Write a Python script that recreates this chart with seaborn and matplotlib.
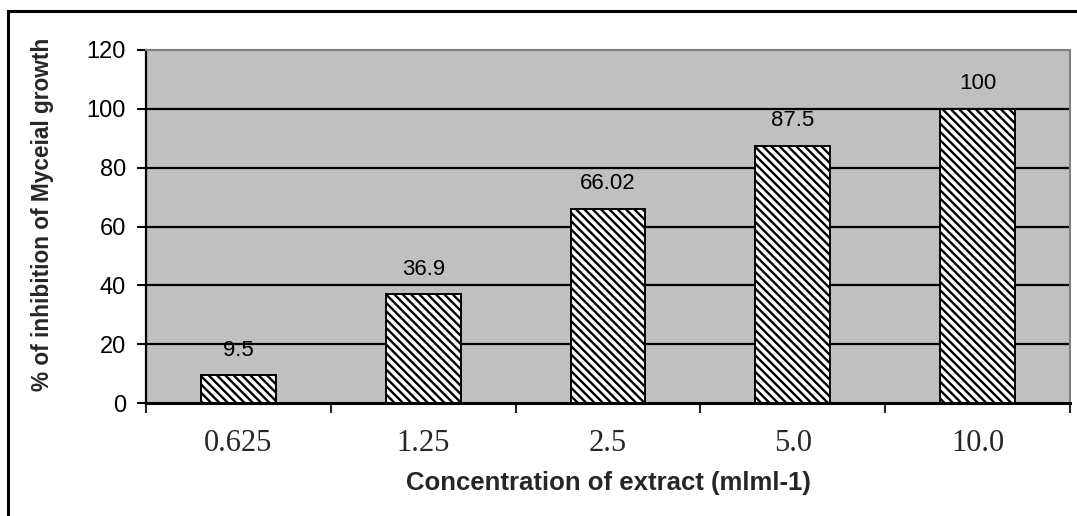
import matplotlib
matplotlib.use("Agg")
import matplotlib.pyplot as plt
import seaborn as sns
import pandas as pd
from matplotlib.patches import Rectangle

# Mycelial growth inhibition by extract concentration
concentrations = ["0.625", "1.25", "2.5", "5.0", "10.0"]
inhibition = [9.5, 36.9, 66.02, 87.5, 100]
value_labels = ["9.5", "36.9", "66.02", "87.5", "100"]
y_ticks = [0, 20, 40, 60, 80, 100, 120]

df = pd.DataFrame({"conc": concentrations, "inhib": inhibition})

sns.set_style("white")
plt.rcParams["font.family"] = ["Liberation Sans", "DejaVu Sans"]
plt.rcParams["hatch.linewidth"] = 1.7
plt.rcParams["hatch.color"] = "black"

fig = plt.figure(figsize=(10.77, 5.16), dpi=100)
ax = fig.add_axes([146 / 1077, 1 - 403 / 516, (1070 - 146) / 1077, (403 - 50) / 516])
ax.set_facecolor("#C0C0C0")

# horizontal gridlines behind the bars
for yv in y_ticks[1:-1]:
    ax.axhline(yv, color="black", lw=1.6, zorder=0.5)

sns.barplot(data=df, x="conc", y="inhib", order=concentrations, ax=ax,
            color="white", edgecolor="black", linewidth=1.4, width=0.405,
            saturation=1, errorbar=None, zorder=2)
for bar in ax.patches:
    bar.set_hatch("\\\\\\\\")

for bar, lab in zip(ax.patches, value_labels):
    ax.annotate(lab, (bar.get_x() + bar.get_width() / 2, bar.get_height()),
                xytext=(0, 18), textcoords="offset points",
                ha="center", va="center", fontsize=16, color="black")

ax.set_xlim(-0.5, len(concentrations) - 0.5)
ax.set_ylim(0, 120)
ax.set_yticks(y_ticks)
ax.tick_params(axis="y", labelsize=17, length=6.5, width=1.5, direction="out",
               left=True, pad=8, colors="black")
# x ticks sit on category boundaries, labels at category centres
ax.set_xticks([i - 0.5 for i in range(len(concentrations) + 1)], minor=False)
ax.set_xticklabels([])
ax.set_xticks(range(len(concentrations)), minor=True)
ax.set_xticklabels(concentrations, minor=True, fontsize=22, family="Liberation Serif")
ax.tick_params(axis="x", which="major", length=7, width=1.5, direction="out", bottom=True)
ax.tick_params(axis="x", which="minor", length=0, pad=19)

ax.set_xlabel("Concentration of extract (mlml-1)", fontsize=18.5, fontweight="bold", labelpad=9)
ax.set_ylabel("% of inhibition of Myceial growth", fontsize=16.3, fontweight="bold")
ax.yaxis.set_label_coords(-0.1, 0.533)

for side in ["top", "right"]:
    ax.spines[side].set_color("#808080")
    ax.spines[side].set_linewidth(1.5)
ax.spines["left"].set_color("black")
ax.spines["left"].set_linewidth(1.6)
ax.spines["bottom"].set_color("black")
ax.spines["bottom"].set_linewidth(2.2)

# outer chart frame
fig.patches.append(Rectangle((8 / 1077, -0.05), 1.2, 1 - 11 / 516 + 0.05,
                             transform=fig.transFigure, fill=False,
                             edgecolor="black", lw=2.2, clip_on=False))

fig.savefig("out.png", dpi=100)
